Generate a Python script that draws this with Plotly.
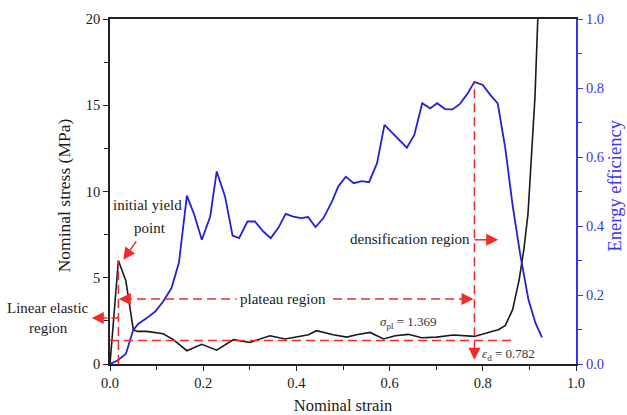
import plotly.graph_objects as go

# ---- data ----
strain_s = [0, 0.018, 0.034, 0.05, 0.059, 0.079, 0.114, 0.136, 0.165, 0.197, 0.229, 0.265,
            0.30, 0.343, 0.376, 0.408, 0.426, 0.443, 0.479, 0.508, 0.529, 0.558, 0.587, 0.612,
            0.640, 0.669, 0.701, 0.737, 0.782, 0.808, 0.833, 0.848, 0.864, 0.878, 0.888, 0.897,
            0.905, 0.912, 0.918]
stress = [0, 6.0, 4.83, 1.99, 1.89, 1.89, 1.75, 1.41, 0.77, 1.14, 0.80, 1.41,
          1.25, 1.64, 1.45, 1.60, 1.70, 1.93, 1.70, 1.56, 1.70, 1.83, 1.45, 1.64,
          1.72, 1.52, 1.56, 1.68, 1.60, 1.80, 1.99, 2.22, 3.15, 4.88, 6.62, 8.7,
          12.0, 15.5, 20.0]

strain_e = [0, 0.016, 0.034, 0.05, 0.061, 0.079, 0.097, 0.114, 0.132, 0.148, 0.165, 0.181,
            0.197, 0.215, 0.229, 0.247, 0.263, 0.277, 0.295, 0.311, 0.329, 0.345, 0.361,
            0.377, 0.393, 0.41, 0.425, 0.441, 0.458, 0.476, 0.49, 0.506, 0.523, 0.54,
            0.556, 0.573, 0.589, 0.605, 0.621, 0.637, 0.653, 0.67, 0.687, 0.702, 0.719,
            0.735, 0.751, 0.767, 0.782, 0.80, 0.816, 0.832, 0.848, 0.864, 0.88, 0.898,
            0.913, 0.927]
efficiency = [0, 0.01, 0.029, 0.099, 0.117, 0.133, 0.152, 0.181, 0.22, 0.294, 0.488, 0.432,
              0.36, 0.427, 0.558, 0.485, 0.372, 0.365, 0.413, 0.413, 0.384, 0.365, 0.394,
              0.435, 0.427, 0.423, 0.426, 0.397, 0.423, 0.47, 0.515, 0.543, 0.524, 0.53,
              0.527, 0.582, 0.693, 0.67, 0.649, 0.627, 0.664, 0.756, 0.741, 0.756, 0.739,
              0.738, 0.754, 0.783, 0.818, 0.809, 0.78, 0.755, 0.628, 0.46, 0.32, 0.186,
              0.119, 0.077]

sigma_pl = 1.369
eps_d = 0.782
x_ticks = [0.0, 0.2, 0.4, 0.6, 0.8, 1.0]
y_ticks = [0, 5, 10, 15, 20]
y2_ticks = [0.0, 0.2, 0.4, 0.6, 0.8, 1.0]

# ---- styles ----
FONT = "Liberation Serif, Times New Roman, serif"
RED = "#f22a2a"
BLUE_LINE = "#2222d4"
BLUE_AX = "#3535f0"
DASH = "9px,5px"
YMAX = 20.0

i_peak = stress.index(max(stress[:5]))
yield_strain, yield_stress = strain_s[i_peak], stress[i_peak]
eff_peak = max(efficiency)

fig = go.Figure()
fig.add_trace(go.Scatter(x=strain_s, y=stress, mode="lines",
                         line=dict(color="#1a1a1a", width=1.6), showlegend=False))
fig.add_trace(go.Scatter(x=strain_e, y=efficiency, mode="lines", yaxis="y2",
                         line=dict(color=BLUE_LINE, width=1.8), showlegend=False))

plateau_y = 3.77
elastic_y = 2.67
dens_y = 7.2

shapes = [
    dict(type="line", xref="x", yref="y", x0=yield_strain, x1=yield_strain, y0=0, y1=yield_stress,
         line=dict(color=RED, width=1.5, dash=DASH)),
    dict(type="line", xref="x", yref="y", x0=0, x1=0.862, y0=sigma_pl, y1=sigma_pl,
         line=dict(color=RED, width=1.5, dash=DASH)),
    dict(type="line", xref="x", yref="y", x0=yield_strain + 0.01, x1=eps_d - 0.012, y0=plateau_y, y1=plateau_y,
         line=dict(color=RED, width=1.5, dash=DASH)),
    dict(type="line", xref="x", yref="y2", x0=eps_d, x1=eps_d, y0=0.04, y1=eff_peak,
         line=dict(color=RED, width=1.5, dash=DASH)),
    dict(type="line", xref="paper", yref="paper", x0=yield_strain, x1=-0.02,
         y0=elastic_y / YMAX, y1=elastic_y / YMAX,
         line=dict(color=RED, width=1.5, dash="7px,4px")),
    dict(type="line", xref="x", yref="y", x0=eps_d, x1=0.815, y0=dens_y, y1=dens_y,
         line=dict(color=RED, width=1.5)),
]

def head(x, y, ax, ay, xref="x", yref="y"):
    return dict(x=x, y=y, xref=xref, yref=yref, ax=ax, ay=ay, text="", showarrow=True,
                arrowhead=2, arrowsize=1.6, arrowwidth=1.5, arrowcolor=RED)

TXT = "#1a1a1a"

def label(x, y, text, size=15, xref="x", yref="y", color=TXT, xanchor="center", **kw):
    return dict(x=x, y=y, xref=xref, yref=yref, text=text, showarrow=False,
                xanchor=xanchor, yanchor="middle",
                font=dict(family=FONT, size=size, color=color), **kw)

annotations = [
    head(yield_strain + 0.0105, yield_stress + 0.04, 14, -20),
    head(yield_strain + 0.001, plateau_y, 12, 0),
    head(eps_d - 0.002, plateau_y, -12, 0),
    head(-0.039, elastic_y / YMAX, 10, 0, xref="paper", yref="paper"),
    head(0.833, dens_y, -12, 0),
    head(eps_d, 0.012, 0, -12, yref="y2"),
    label(0.0815, 9.21, "initial yield"),
    label(0.0858, 7.9, "point"),
    label(-0.133, 0.163, "Linear elastic", xref="paper", yref="paper"),
    label(-0.132, 0.105, "region", xref="paper", yref="paper"),
    label(0.371, plateau_y, "plateau region", bgcolor="white", borderpad=3),
    label(0.644, 7.26, "densification region"),
    label(0.64, 2.41, "<i>σ</i><sub>pl</sub> = %.3f" % sigma_pl, size=13, color="#333333"),
    label(eps_d + 0.013, 0.54, "<i>ε</i><sub>d</sub> = %.3f" % eps_d, size=13, color="#333333",
          xanchor="left"),
    # axis titles
    label(-0.0987, 0.489, "Nominal stress (MPa)", size=17.5, xref="paper", yref="paper",
          textangle=-90),
    label(1.084, 0.518, "Energy efficiency", size=18.5, xref="paper", yref="paper",
          color=BLUE_AX, textangle=-90, borderpad=0),
]

fig.update_layout(
    width=627, height=415,
    margin=dict(l=110, r=51, t=19, b=51, autoexpand=False),
    paper_bgcolor="white", plot_bgcolor="white",
    font=dict(family=FONT, color=TXT),
    shapes=shapes, annotations=annotations,
    xaxis=dict(range=[0, 1], tickvals=x_ticks, ticktext=["%.1f" % v for v in x_ticks],
               automargin=False,
               ticks="outside", ticklen=5, tickwidth=1.2, tickcolor="#222",
               showline=True, linecolor="#222", linewidth=1.6, mirror=True,
               showgrid=False, zeroline=False,
               minor=dict(dtick=0.1, ticks="outside", ticklen=4, tickcolor="#222"),
               tickfont=dict(family=FONT, size=14.5, color=TXT),
               title=dict(text="Nominal strain", font=dict(family=FONT, size=16.5), standoff=12)),
    yaxis=dict(range=[0, YMAX], tickvals=y_ticks, ticks="outside", ticklen=5, tickwidth=1.2,
               automargin=False,
               tickcolor="#222", showline=True, linecolor="#222", linewidth=1.6,
               showgrid=False, zeroline=False,
               minor=dict(dtick=2.5, ticks="outside", ticklen=4, tickcolor="#222"),
               tickfont=dict(family=FONT, size=14.5, color=TXT)),
    yaxis2=dict(range=[0, 1], overlaying="y", side="right", tickvals=y2_ticks,
                ticktext=["%.1f" % v for v in y2_ticks], automargin=False,
                ticks="outside", ticklen=5, tickwidth=1.2, tickcolor=BLUE_AX,
                showline=True, linecolor=BLUE_AX, linewidth=2, showgrid=False, zeroline=False,
                minor=dict(dtick=0.1, ticks="outside", ticklen=4, tickcolor=BLUE_AX),
                tickfont=dict(family=FONT, size=14.5, color=BLUE_AX)),
)

fig.write_html("out.html")
